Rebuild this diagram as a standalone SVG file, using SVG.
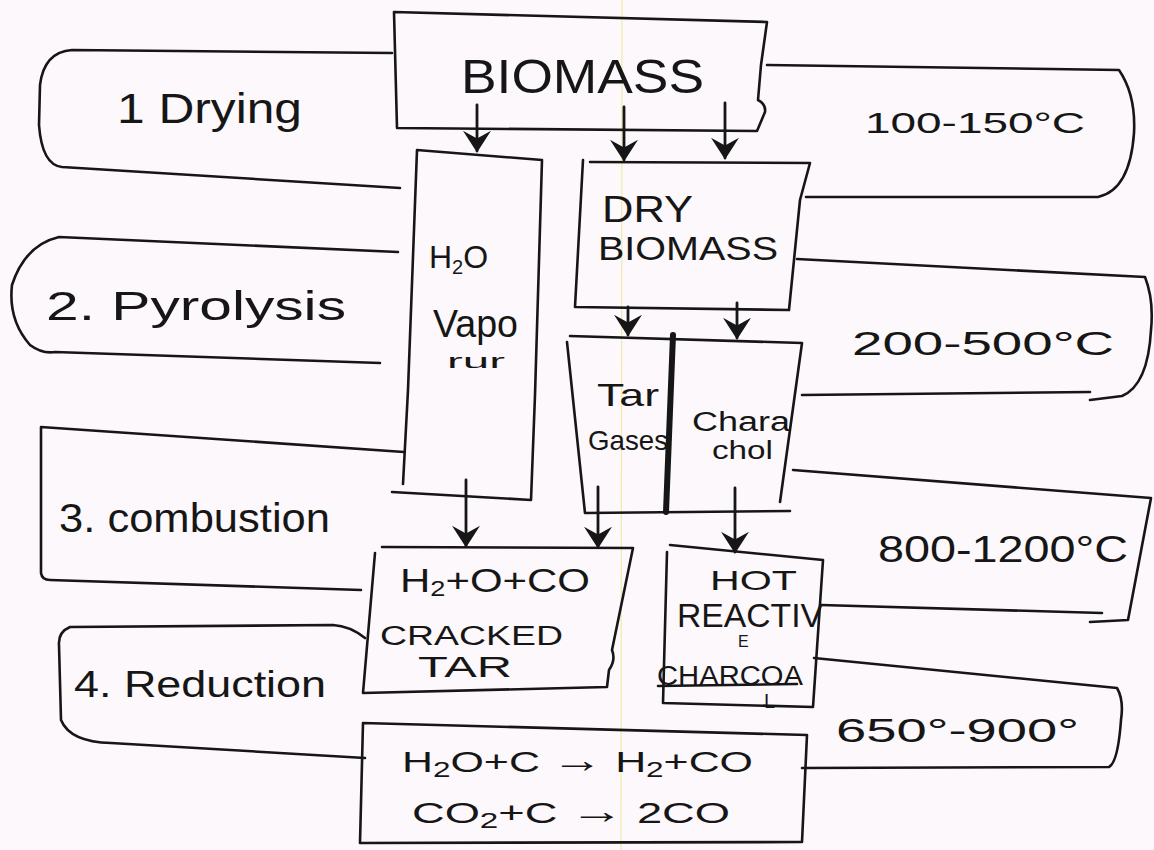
<svg xmlns="http://www.w3.org/2000/svg" width="1154" height="850" viewBox="0 0 1154 850">
<defs>
<style>
.ln{fill:none;stroke:#161616;stroke-width:2.6;stroke-linecap:round;stroke-linejoin:round}
.ar{fill:none;stroke:#161616;stroke-width:2.8;stroke-linecap:round}
.t{font-family:"Liberation Sans","DejaVu Sans",sans-serif;fill:#161616}
</style>
<marker id="ah" viewBox="0 0 14 18" refX="13" refY="9" markerWidth="22" markerHeight="28" markerUnits="userSpaceOnUse" orient="auto">
<path d="M0,0 L14,9 L0,18 L5,9 Z" fill="#161616"/>
</marker>
</defs>
<rect width="1154" height="850" fill="#fcf8fb"/>
<line x1="622" y1="0" x2="621" y2="850" stroke="#f1eaa8" stroke-width="1.2"/>

<g id="biomass">
<path class="ln" d="M394,12 L767,22 L761,65 L758,100 Q766,104 765,112 L757,131 L397,128 Z"/>
<text class="t" x="461" y="93" font-size="48" textLength="243" lengthAdjust="spacingAndGlyphs">BIOMASS</text>
</g>

<g id="stage-drying">
<path class="ln" d="M392,53 L72,50 Q44,52 40,85 L39,125 Q42,165 62,167 L400,188"/>
<text class="t" x="117" y="123" font-size="42" textLength="185" lengthAdjust="spacingAndGlyphs">1 Drying</text>
</g>

<g id="temp-drying">
<path class="ln" d="M767,65 L1119,70 Q1136,95 1134,133 Q1130,190 1098,197 L806,197"/>
<text class="t" x="865" y="133" font-size="30" textLength="220" lengthAdjust="spacingAndGlyphs">100-150°C</text>
</g>

<g id="h2o-vapour">
<path class="ln" d="M417,150 L542,160 L535,395 L531,500 M417,150 L408,390 L403,484 M392,492 L531,500"/>
<text class="t" x="429" y="268" font-size="32">H<tspan font-size="20" dy="6">2</tspan><tspan dy="-6">O</tspan></text>
<text class="t" x="433" y="337" font-size="38" textLength="85" lengthAdjust="spacingAndGlyphs">Vapo</text>
<text class="t" x="447" y="368" font-size="20" textLength="58" lengthAdjust="spacingAndGlyphs">rur</text>
</g>

<g id="dry-biomass">
<path class="ln" d="M590,162 L810,163 L800,200 L789,310 L575,307 L583,160"/>
<text class="t" x="602" y="222" font-size="36" textLength="91" lengthAdjust="spacingAndGlyphs">DRY</text>
<text class="t" x="598" y="260" font-size="34" textLength="180" lengthAdjust="spacingAndGlyphs">BIOMASS</text>
</g>

<g id="stage-pyrolysis">
<path class="ln" d="M398,252 L59,237 Q25,245 12,285 Q8,320 30,345 Q42,354 55,352 L380,363"/>
<text class="t" x="46" y="320" font-size="40" textLength="300" lengthAdjust="spacingAndGlyphs">2. Pyrolysis</text>
</g>

<g id="temp-pyrolysis">
<path class="ln" d="M797,259 L1145,277 Q1154,300 1151,330 Q1148,385 1122,396 L1090,400 M802,395 L1090,392"/>
<text class="t" x="852" y="355" font-size="34" textLength="262" lengthAdjust="spacingAndGlyphs">200-500°C</text>
</g>

<g id="tar-gases-charcoal">
<path class="ln" d="M570,336 L802,343 L780,502 M567,342 L585,513 L790,511"/>
<path d="M673,335 L666,512" fill="none" stroke="#161616" stroke-width="6" stroke-linecap="round"/>
<text class="t" x="597" y="406" font-size="32" textLength="62" lengthAdjust="spacingAndGlyphs">Tar</text>
<text class="t" x="588" y="450" font-size="28" textLength="80" lengthAdjust="spacingAndGlyphs">Gases</text>
<text class="t" x="692" y="431" font-size="27" textLength="98" lengthAdjust="spacingAndGlyphs">Chara</text>
<text class="t" x="712" y="459" font-size="25" textLength="61" lengthAdjust="spacingAndGlyphs">chol</text>
</g>

<g id="stage-combustion">
<path class="ln" d="M404,452 L41,427 L41,573 Q42,580 50,580 L361,590"/>
<text class="t" x="59" y="532" font-size="40" textLength="271" lengthAdjust="spacingAndGlyphs">3. combustion</text>
</g>

<g id="temp-combustion">
<path class="ln" d="M793,470 L1151,498 L1128,620 L1090,622 M821,605 L1102,613"/>
<text class="t" x="878" y="562" font-size="36" textLength="250" lengthAdjust="spacingAndGlyphs">800-1200°C</text>
</g>

<g id="cracked-tar">
<path class="ln" d="M382,547 L633,548 L612,650 Q616,660 609,670 L607,687 L363,693 L375,553"/>
<text class="t" x="400" y="592" font-size="34" textLength="190" lengthAdjust="spacingAndGlyphs">H<tspan font-size="22" dy="4">2</tspan><tspan dy="-4">+O+CO</tspan></text>
<text class="t" x="380" y="645" font-size="27" textLength="183" lengthAdjust="spacingAndGlyphs">CRACKED</text>
<text class="t" x="418" y="677" font-size="30" textLength="94" lengthAdjust="spacingAndGlyphs">TAR</text>
</g>

<g id="hot-reactive-charcoal">
<path class="ln" d="M670,545 L823,560 L813,707 L663,703 L667,552"/>
<text class="t" x="710" y="590" font-size="28" textLength="87" lengthAdjust="spacingAndGlyphs">HOT</text>
<text class="t" x="677" y="627" font-size="34" textLength="146" lengthAdjust="spacingAndGlyphs">REACTIV</text>
<text class="t" x="738" y="647" font-size="16">E</text>
<text class="t" x="657" y="685" font-size="27" textLength="146" lengthAdjust="spacingAndGlyphs">CHARCOA</text>
<path class="ln" d="M658,686 L797,684" stroke-width="1.8"/>
<text class="t" x="764" y="708" font-size="20">L</text>
</g>

<g id="stage-reduction">
<path class="ln" d="M365,638 Q350,626 333,625 L70,627 Q58,632 59,645 L61,720 Q70,742 111,743 L365,758"/>
<text class="t" x="74" y="697" font-size="36" textLength="252" lengthAdjust="spacingAndGlyphs">4. Reduction</text>
</g>

<g id="temp-reduction">
<path class="ln" d="M814,658 L1117,688 Q1124,700 1121,720 Q1118,762 1109,767 L802,768"/>
<text class="t" x="836" y="742" font-size="34" textLength="243" lengthAdjust="spacingAndGlyphs">650°-900°</text>
</g>

<g id="reactions">
<path class="ln" d="M363,723 L807,735 L802,842 L360,843 Z"/>
<text class="t" x="402" y="772" font-size="30" textLength="351" lengthAdjust="spacingAndGlyphs">H<tspan font-size="22" dy="5">2</tspan><tspan dy="-5">O+C </tspan><tspan font-size="36">→</tspan><tspan> H</tspan><tspan font-size="22" dy="5">2</tspan><tspan dy="-5">+CO</tspan></text>
<text class="t" x="412" y="823" font-size="30" textLength="318" lengthAdjust="spacingAndGlyphs">CO<tspan font-size="22" dy="5">2</tspan><tspan dy="-5">+C </tspan><tspan font-size="36">→</tspan><tspan> 2CO</tspan></text>
</g>

<g id="connectors">
<line class="ar" x1="477" y1="105" x2="477" y2="151" marker-end="url(#ah)"/>
<line class="ar" x1="624" y1="107" x2="624" y2="160" marker-end="url(#ah)"/>
<line class="ar" x1="725" y1="103" x2="725" y2="158" marker-end="url(#ah)"/>
<line class="ar" x1="628" y1="307" x2="628" y2="335" marker-end="url(#ah)"/>
<line class="ar" x1="737" y1="303" x2="737" y2="338" marker-end="url(#ah)"/>
<line class="ar" x1="466" y1="480" x2="466" y2="546" marker-end="url(#ah)"/>
<line class="ar" x1="598" y1="487" x2="598" y2="547" marker-end="url(#ah)"/>
<line class="ar" x1="735" y1="488" x2="735" y2="552" marker-end="url(#ah)"/>
</g>
</svg>
